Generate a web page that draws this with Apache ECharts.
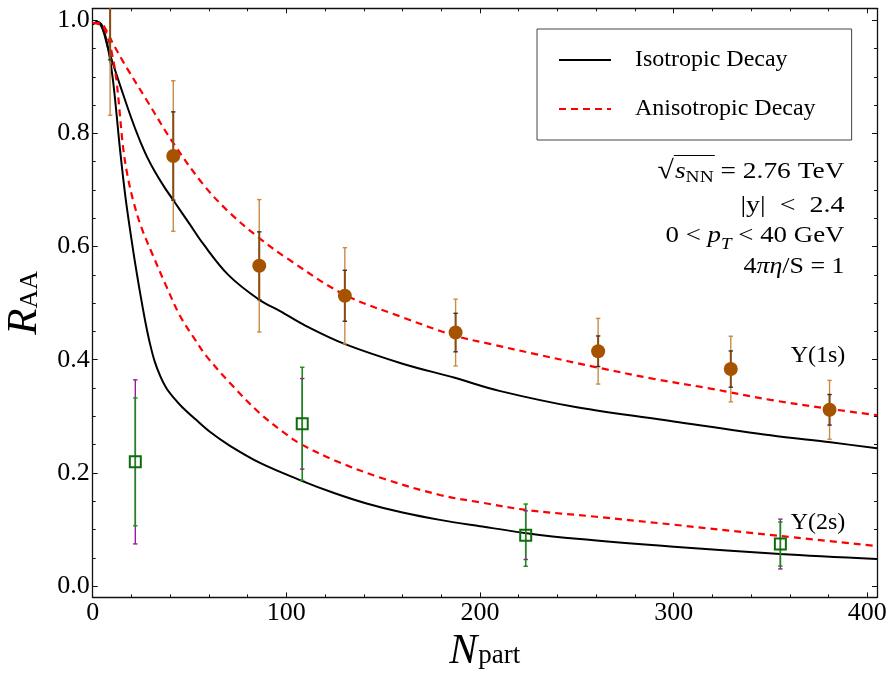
<!DOCTYPE html>
<html><head><meta charset="utf-8">
<script src="https://cdn.jsdelivr.net/npm/echarts@6/dist/echarts.min.js"></script>
<style>html,body{margin:0;padding:0;background:#fff}#c{width:886px;height:677px}</style>
</head><body><div id="c"></div>
<script>
const SERIF = "'Liberation Serif','Times New Roman','DejaVu Serif',serif";

// ---- Model curves (N_part, R_AA) ----
const isoX1s = [0, 2.5, 5, 8, 12, 16, 19, 21, 23, 25, 28, 32, 37, 42, 50, 57, 70, 86, 97, 110, 130, 160, 187, 210, 250, 300, 350, 381, 405];
const isoY1s = [0.993, 0.997, 0.985, 0.95, 0.907, 0.866, 0.836, 0.817, 0.799, 0.782, 0.759, 0.733, 0.705, 0.68, 0.64, 0.605, 0.55, 0.506, 0.4855, 0.46, 0.428, 0.393, 0.368, 0.345, 0.316, 0.291, 0.2665, 0.254, 0.2435];
const aniX1s = [0, 4, 7, 10, 16, 28, 41, 57, 70, 86, 100, 130, 160, 187, 205, 230, 261, 290, 319, 350, 381, 405];
const aniY1s = [0.995, 0.995, 0.982, 0.962, 0.925, 0.858, 0.786, 0.71, 0.662, 0.615, 0.58, 0.515, 0.475, 0.4425, 0.428, 0.409, 0.386, 0.366, 0.349, 0.329, 0.313, 0.302];
const isoX2s = [0, 2.5, 5, 7, 9, 10.6, 12, 14, 17, 20.8, 23, 25, 27.3, 29.6, 32, 35, 38, 42, 46, 52.8, 60.5, 70.9, 86.4, 108, 125, 141.4, 160, 179.3, 200, 224, 250, 300, 355, 405];
const isoY2s = [0.993, 0.997, 0.99, 0.965, 0.93, 0.89, 0.845, 0.775, 0.685, 0.595, 0.548, 0.508, 0.465, 0.428, 0.397, 0.37, 0.35, 0.332, 0.317, 0.2955, 0.2726, 0.2478, 0.2177, 0.186, 0.164, 0.146, 0.13, 0.117, 0.1058, 0.0935, 0.0835, 0.0696, 0.0566, 0.0478];
const aniX2s = [0, 5, 7.2, 10, 12.4, 15.7, 18, 21, 25, 30.4, 38, 45, 52, 58.8, 72.5, 86.4, 100, 108, 125, 150, 179.3, 200, 224, 260, 300, 355, 405];
const aniY2s = [0.995, 0.99, 0.975, 0.94, 0.89, 0.775, 0.725, 0.68, 0.635, 0.59, 0.53, 0.478, 0.44, 0.406, 0.353, 0.305, 0.268, 0.25, 0.222, 0.19, 0.161, 0.148, 0.1345, 0.1225, 0.1085, 0.0885, 0.0708];

// ---- Data: Upsilon(1s) ----
const u1Npart = [9, 41.6, 86.0, 130.2, 187.4, 261.0, 329.5, 380.5];
const u1Raa   = [1.06, 0.760, 0.566, 0.513, 0.448, 0.415, 0.3835, 0.3115];
const u1ErrOuter = [0.228, 0.133, 0.117, 0.085, 0.059, 0.058, 0.058, 0.052];
const u1ErrInner = [0.13, 0.078, 0.06, 0.045, 0.034, 0.027, 0.032, 0.027];

// ---- Data: Upsilon(2s) ----
const u2Npart = [22.0, 108.2, 223.6, 355.1];
const u2Raa   = [0.2195, 0.2867, 0.090, 0.0743];
const u2ErrGreen  = [0.113, 0.10, 0.055, 0.039];
const u2ErrPurple = [0.145, 0.08, 0.043, 0.044];

// ---- Ticks ----
const xMajor = [0, 100, 200, 300, 400];
const xMinor = [20,40,60,80,120,140,160,180,220,240,260,280,320,340,360,380];
const yMajor = [0, 0.2, 0.4, 0.6, 0.8, 1.0];
const yMinor = [0.05,0.1,0.15,0.25,0.3,0.35,0.45,0.5,0.55,0.65,0.7,0.75,0.85,0.9,0.95];

const X_MIN = 0, X_MAX = 405, Y_MIN = -0.02, Y_MAX = 1.021;

const zip = (xs, ys) => xs.map((x, i) => [x, ys[i]]);

const C_U1 = '#a65300', C_U1_OUT = '#c98a45', C_U1_IN = '#8a4a12', C_U1_TICK = '#333333';
const C_U2 = '#0b6e0b', C_U2_BAR = '#1b8a1b', C_U2_P = '#9a1a9a';

function ln(x1, y1, x2, y2, c, w) {
  return {type: 'line', shape: {x1, y1, x2, y2}, style: {stroke: c, lineWidth: w}, silent: true};
}
function mkErr(outerC, innerC, outerCap, innerCap, innerW) {
  return function (params, api) {
    const x = api.value(0), y = api.value(1), eo = api.value(2), ei = api.value(3);
    const cs = params.coordSys;
    const top = cs.y, bot = cs.y + cs.height;
    const cl = v => Math.max(top, Math.min(bot, v));
    const inR = v => v >= top - 0.5 && v <= bot + 0.5;
    const cx = api.coord([x, y])[0];
    const o1 = api.coord([x, y + eo])[1], o2 = api.coord([x, y - eo])[1];
    const i1 = api.coord([x, y + ei])[1], i2 = api.coord([x, y - ei])[1];
    const ch = [];
    ch.push(ln(cx, cl(o1), cx, cl(o2), outerC, 1.4));
    ch.push(ln(cx, cl(i1), cx, cl(i2), innerC, innerW));
    const hw = 2.2;
    [o1, o2].forEach(v => { if (inR(v)) ch.push(ln(cx - hw, v, cx + hw, v, outerCap, 1.4)); });
    [i1, i2].forEach(v => { if (inR(v)) ch.push(ln(cx - hw, v, cx + hw, v, innerCap, 1.4)); });
    return {type: 'group', children: ch};
  };
}

// ---- text layout helper for annotations (right-aligned, stretched to a target width) ----
const mctx = document.createElement('canvas').getContext('2d');
function fstr(p) { return (p.italic ? 'italic ' : '') + p.size + 'px ' + SERIF; }
function textLine(xRight, baseline, targetW, parts, extra) {
  let w = 0;
  parts.forEach(p => { mctx.font = fstr(p); p.w = mctx.measureText(p.t).width; w += p.w + (p.dx || 0); });
  let x = -w;
  const ch = [];
  parts.forEach(p => {
    x += (p.dx || 0);
    p.x0 = x; p.x1 = x + p.w;
    ch.push({type: 'text', x: x, y: baseline + (p.dy || 0) - 0.3375 * p.size, silent: true,
      style: {text: p.t, font: fstr(p), fill: '#000', align: 'left', verticalAlign: 'middle',
              textAlign: 'left', textVerticalAlign: 'middle'}});
    x += p.w;
  });
  if (extra) ch.push(...extra(parts));
  return {type: 'group', x: xRight, y: 0, scaleX: targetW / w, silent: true, children: ch};
}

const gfx = [];
const XR = 844.5;
gfx.push(textLine(XR, 179.5, 187,
  [{t: '\u221A', size: 26}, {t: 's', size: 24, italic: true, dx: 1}, {t: 'NN', size: 17, dy: 4}, {t: ' = 2.76 TeV', size: 24}],
  parts => [{type: 'line', silent: true, shape: {x1: parts[1].x0 - 1, y1: 155.5, x2: parts[2].x1 + 1, y2: 155.5}, style: {stroke: '#000', lineWidth: 1.2}}]));
gfx.push(textLine(XR, 213.5, 104,
  [{t: '|y|', size: 24}, {t: '<', size: 24, dx: 12}, {t: '2.4', size: 24, dx: 12}]));
gfx.push(textLine(XR, 244, 179,
  [{t: '0 < ', size: 24}, {t: 'p', size: 24, italic: true}, {t: 'T', size: 17, italic: true, dy: 6}, {t: ' < 40 GeV', size: 24}]));
gfx.push(textLine(XR, 275, 101,
  [{t: '4', size: 24}, {t: '\u03C0\u03B7', size: 24, italic: true}, {t: '/S = 1', size: 24}]));
gfx.push({type: 'text', x: 818, y: 356, silent: true, style: {text: '\u03A5(1s)', font: '24px ' + SERIF, fill: '#000', align: 'center', verticalAlign: 'middle', textAlign: 'center', textVerticalAlign: 'middle'}});
gfx.push({type: 'text', x: 818, y: 523, silent: true, style: {text: '\u03A5(2s)', font: '24px ' + SERIF, fill: '#000', align: 'center', verticalAlign: 'middle', textAlign: 'center', textVerticalAlign: 'middle'}});

const AX = {color: '#111', width: 1.3};
const labelStyle = {fontFamily: SERIF, fontSize: 26, color: '#000'};
function xAx(pos, vals, len, main) {
  return {type: 'value', position: pos, min: X_MIN, max: X_MAX,
    axisLine: {show: main, onZero: false, lineStyle: AX},
    axisTick: {show: true, inside: true, length: len, customValues: vals, lineStyle: {color: '#111', width: 1}},
    axisLabel: {show: main && pos === 'bottom', customValues: vals, margin: 3, ...labelStyle, formatter: v => String(Math.round(v))},
    splitLine: {show: false}, minorTick: {show: false}};
}
function yAx(pos, vals, len, main) {
  return {type: 'value', position: pos, min: Y_MIN, max: Y_MAX,
    axisLine: {show: main, onZero: false, lineStyle: AX},
    axisTick: {show: true, inside: true, length: len, customValues: vals, lineStyle: {color: '#111', width: 1}},
    axisLabel: {show: main && pos === 'left', customValues: vals, margin: 3, ...labelStyle, formatter: v => v.toFixed(1)},
    splitLine: {show: false}, minorTick: {show: false}};
}
const xAxes = [xAx('bottom', xMajor, 5, true), xAx('bottom', xMinor, 3, false), xAx('top', xMajor, 5, true), xAx('top', xMinor, 3, false)];
const yAxes = [yAx('left', yMajor, 5, true), yAx('left', yMinor, 3, false), yAx('right', yMajor, 5, true), yAx('right', yMinor, 3, false)];
Object.assign(xAxes[0], {name: '{n|N}{p|part}', nameLocation: 'middle', nameGap: 32,
  nameTextStyle: {rich: {
    n: {fontFamily: SERIF, fontStyle: 'italic', fontSize: 42, color: '#000', verticalAlign: 'bottom'},
    p: {fontFamily: SERIF, fontSize: 27, color: '#000', verticalAlign: 'bottom', padding: [0, 0, 4, 1]}}}});
Object.assign(yAxes[0], {name: '{n|R}{p|AA}', nameLocation: 'middle', nameGap: 30, nameRotate: 90,
  nameTextStyle: {rich: {
    n: {fontFamily: SERIF, fontStyle: 'italic', fontSize: 43, color: '#000', verticalAlign: 'bottom'},
    p: {fontFamily: SERIF, fontSize: 26, color: '#000', verticalAlign: 'bottom', padding: [0, 0, 3, 0]}}}});

const curve = (name, xs, ys, color, dashed) => ({
  type: 'line', name: name, data: zip(xs, ys), symbol: 'none', smooth: 0.35,
  silent: true, z: 2, lineStyle: {color: color, width: dashed ? 2.2 : 2, type: dashed ? [7, 5] : 'solid'},
  itemStyle: {color: color}
});

const option = {
  animation: false,
  backgroundColor: '#fff',
  grid: {left: 92.7, right: 9, top: 8.3, bottom: 79.6, containLabel: false, outerBoundsMode: 'none'},
  xAxis: xAxes,
  yAxis: yAxes,
  legend: {
    data: ['Isotropic Decay', 'Anisotropic Decay'], orient: 'vertical', left: 537, top: 29,
    padding: [17, 36, 17, 21], itemWidth: 52, itemHeight: 14, itemGap: 21,
    borderColor: '#444', borderWidth: 1, selectedMode: false,
    itemStyle: {opacity: 0},
    textStyle: {fontFamily: SERIF, fontSize: 24, color: '#000', lineHeight: 28, padding: [0, 0, 0, 19]}
  },
  graphic: {elements: gfx},
  series: [
    curve('Isotropic Decay', isoX1s, isoY1s, '#000'),
    curve('Isotropic Decay', isoX2s, isoY2s, '#000'),
    curve('Anisotropic Decay', aniX1s, aniY1s, '#ff0000', true),
    curve('Anisotropic Decay', aniX2s, aniY2s, '#ff0000', true),
    {type: 'custom', name: 'u1err', silent: true, z: 3,
      data: u1Npart.map((x, i) => [x, u1Raa[i], u1ErrOuter[i], u1ErrInner[i]]),
      encode: {x: 0, y: 1}, renderItem: mkErr(C_U1_OUT, C_U1_IN, C_U1_OUT, C_U1_TICK, 2)},
    {type: 'custom', name: 'u2err', silent: true, z: 3,
      data: u2Npart.map((x, i) => [x, u2Raa[i], u2ErrPurple[i], u2ErrGreen[i]]),
      encode: {x: 0, y: 1}, renderItem: mkErr(C_U2_P, C_U2_BAR, C_U2_P, C_U2_BAR, 1.6)},
    {type: 'scatter', name: 'u1', data: zip(u1Npart, u1Raa), symbol: 'circle', symbolSize: 14, z: 4,
      silent: true, clip: true, itemStyle: {color: C_U1, opacity: 1}},
    {type: 'scatter', name: 'u2', data: zip(u2Npart, u2Raa), symbol: 'rect', symbolSize: 11, z: 4,
      silent: true, clip: true, itemStyle: {color: 'rgba(0,0,0,0)', borderColor: C_U2, borderWidth: 2, opacity: 1}}
  ]
};
const chart = echarts.init(document.getElementById('c'), null, {renderer: 'canvas'});
chart.setOption(option);
</script></body></html>
